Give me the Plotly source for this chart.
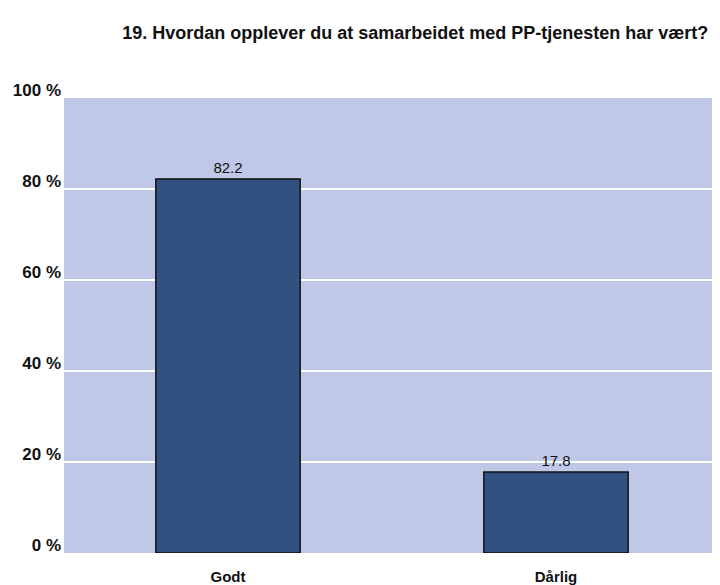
import plotly.graph_objects as go

categories = ["Godt", "Dårlig"]
values = [82.2, 17.8]
tick_vals = [0, 20, 40, 60, 80, 100]
tick_text = ["0 %", "20 %", "40 %", "60 %", "80 %", "100 %"]

BAR = "#325080"
PLOT_BG = "#BFC8E6"

fig = go.Figure()
fig.add_trace(go.Bar(
    x=categories,
    y=values,
    text=[f"{v:.1f}" for v in values],
    textposition="outside",
    textfont=dict(size=15, color="#111111", family="Liberation Sans, Arial"),
    cliponaxis=False,
    marker=dict(color=BAR, line=dict(color="#111111", width=1.5)),
    hoverinfo="skip",
))

# page body has an 8px margin, so the figure is sized to fit inside the window
fig.update_layout(
    width=712,
    height=577,
    title=dict(
        text="<b>19. Hvordan opplever du at samarbeidet med PP-tjenesten har vært?</b>",
        x=0.572, xanchor="center", y=0.958, yanchor="middle",
        font=dict(size=18, color="#111111", family="Liberation Sans, Arial"),
    ),
    margin=dict(l=56, r=0, t=90, b=32, autoexpand=False),
    paper_bgcolor="white",
    plot_bgcolor=PLOT_BG,
    bargap=0.56,
    showlegend=False,
    font=dict(family="Liberation Sans, Arial", color="#111111"),
    xaxis=dict(
        showgrid=False,
        showline=False,
        ticks="",
        automargin=False,
        tickfont=dict(size=15, color="#111111"),
        ticklabelstandoff=13,
        tickprefix="<b>", ticksuffix="</b>",
    ),
    yaxis=dict(
        range=[0, 100],
        tickvals=tick_vals,
        ticktext=[f"<b>{t}</b>" for t in tick_text],
        tickfont=dict(size=17, color="#111111"),
        gridcolor="white",
        gridwidth=2,
        zeroline=False,
        showline=False,
        ticks="",
        automargin=False,
        ticklabelstandoff=2,
        ticklabelshift=-8,
    ),
)

fig.write_html("out.html")
